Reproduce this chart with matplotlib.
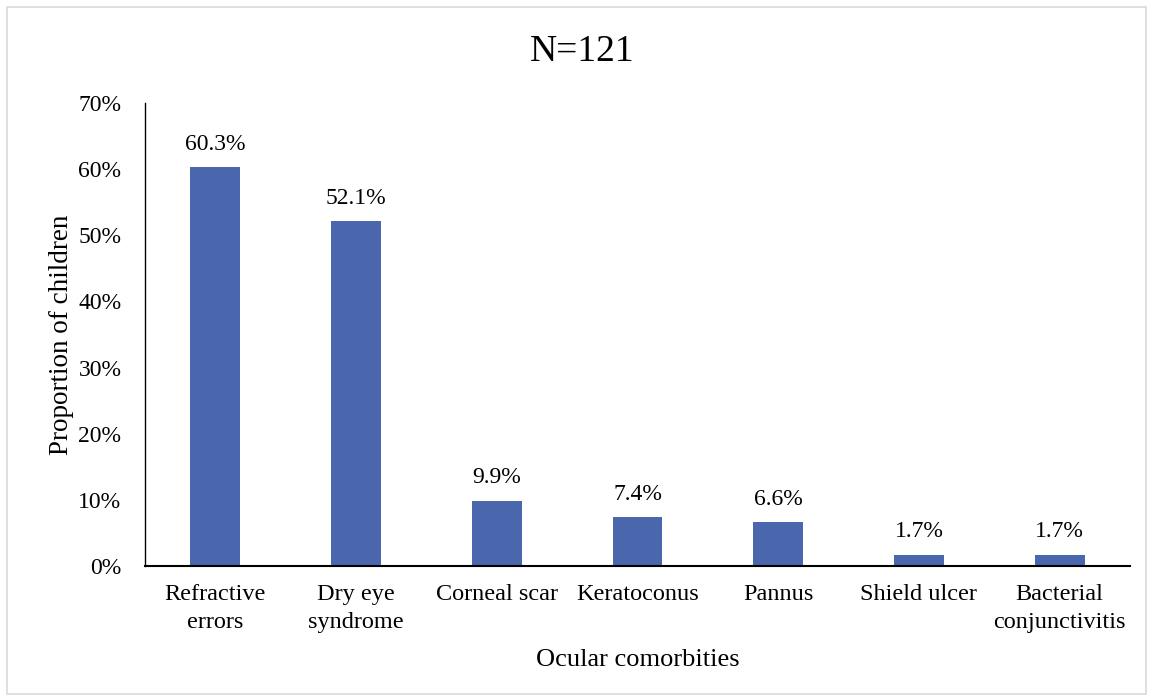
import matplotlib.pyplot as plt
from matplotlib.patches import Rectangle
from matplotlib.ticker import PercentFormatter

categories = ["Refractive\nerrors", "Dry eye\nsyndrome", "Corneal scar", "Keratoconus",
              "Pannus", "Shield ulcer", "Bacterial\nconjunctivitis"]
proportions = [60.3, 52.1, 9.9, 7.4, 6.6, 1.7, 1.7]
y_ticks = [0, 10, 20, 30, 40, 50, 60, 70]

plt.rcParams['font.family'] = ['Liberation Serif', 'DejaVu Serif']

fig = plt.figure(figsize=(11.54, 7.0), dpi=100)
ax = fig.add_axes([145 / 1154, 1 - 566 / 700, 985 / 1154, 463 / 700])

x = range(len(categories))
bars = ax.bar(x, proportions, width=0.355, color="#4a66ac")
for b, v in zip(bars, proportions):
    ax.annotate(f"{v:.1f}%", (b.get_x() + b.get_width() / 2, v),
                xytext=(0, 9), textcoords="offset points",
                ha="center", va="bottom", fontsize=17)

ax.set_xlim(-0.5, len(categories) - 0.5)
ax.set_ylim(0, 70)
ax.set_yticks(y_ticks)
ax.yaxis.set_major_formatter(PercentFormatter(decimals=0))
ax.set_xticks(list(x))
ax.set_xticklabels(categories, fontsize=17.5, linespacing=1.45)
ax.tick_params(axis="y", labelsize=17, length=0, pad=17)
ax.tick_params(axis="x", length=0, pad=13)

for side in ("top", "right"):
    ax.spines[side].set_visible(False)
ax.spines["left"].set_linewidth(1.0)
ax.spines["bottom"].set_linewidth(1.5)

ax.set_ylabel("Proportion of children", fontsize=19.5, labelpad=3)
ax.set_xlabel("Ocular comorbities", fontsize=19, labelpad=11)
fig.text(582 / 1154, 1 - 52 / 700, "N=121", fontsize=27, ha="center", va="center")

fig.patches.append(Rectangle((7 / 1154, 6 / 700), 1 - 15 / 1154, 1 - 13 / 700,
                             transform=fig.transFigure, fill=False,
                             edgecolor="#d9d9d9", linewidth=1.2))

fig.savefig("out.png", dpi=100)
